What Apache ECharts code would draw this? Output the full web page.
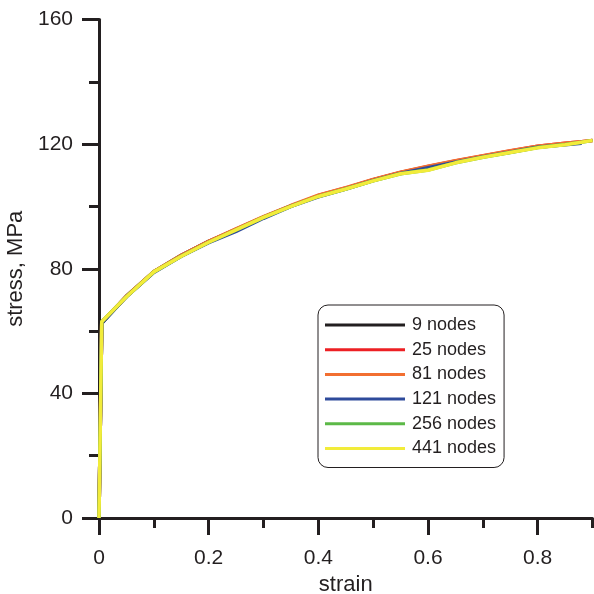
<!DOCTYPE html>
<html>
<head>
<meta charset="utf-8">
<script src="https://cdn.jsdelivr.net/npm/echarts@6/dist/echarts.min.js"></script>
<style>
  html, body { margin: 0; padding: 0; background: #fff; }
  #chart { width: 594px; height: 594px; }
</style>
</head>
<body>
<div id="chart"></div>
<script>
// strain values (x) shared by all curves
var strain = [0, 0.005, 0.05, 0.1, 0.15, 0.2, 0.25, 0.3, 0.35, 0.4, 0.45, 0.5, 0.55, 0.6, 0.65, 0.7, 0.75, 0.8, 0.85, 0.88, 0.9];

// stress in MPa for each mesh
var nodes9   = [0, 62.5, 71.2, 79.0, 84.3, 88.8, 92.6, 96.6, 100.2, 103.3, 105.8, 108.5, 110.8, 112.6, 114.3, 116.0, 117.6, 119.1, 120.0, 120.4, null];
var nodes25  = [0, 62.8, 71.1, 79.0, 84.2, 88.7, 92.7, 96.6, 100.1, 103.5, 105.9, 108.6, 110.9, 112.8, 114.6, 116.2, 117.8, 119.3, 120.3, 120.8, 121.2];
var nodes81  = [0, 62.9, 71.2, 79.1, 84.3, 88.8, 92.8, 96.7, 100.3, 103.6, 106.0, 108.7, 111.0, 112.9, 114.7, 116.3, 117.9, 119.3, 120.3, 120.8, 121.2];
var nodes121 = [0, 62.6, 71.0, 78.8, 84.0, 88.4, 92.0, 96.2, 100.0, 103.1, 105.6, 108.3, 110.6, 112.4, 114.2, 115.9, 117.4, 119.0, 119.8, 120.3, null];
var nodes256 = [0, 63.0, 71.0, 79.0, 84.0, 88.5, 92.5, 96.5, 100.0, 103.2, 105.6, 108.2, 110.5, 111.7, 114.0, 115.8, 117.3, 118.9, 119.9, 120.6, 121.2];
var nodes441 = [0, 63.0, 71.0, 79.0, 84.0, 88.5, 92.5, 96.5, 100.0, 103.2, 105.6, 108.2, 110.5, 111.6, 114.0, 115.8, 117.3, 118.8, 119.8, 120.6, 121.2];

var seriesNames = ['9 nodes', '25 nodes', '81 nodes', '121 nodes', '256 nodes', '441 nodes'];
var seriesValues = [nodes9, nodes25, nodes81, nodes121, nodes256, nodes441];
var seriesColors = ['#231f20', '#ed2024', '#f26f31', '#2e4b9b', '#5cb947', '#f2ec3a'];

var majorX = [0, 0.2, 0.4, 0.6, 0.8];
var minorX = [0.1, 0.3, 0.5, 0.7, 0.9];

var ink = '#231f20';

function pairs(vals) {
  var out = [];
  for (var i = 0; i < strain.length; i++) {
    if (vals[i] != null) out.push([strain[i], vals[i]]);
  }
  return out;
}

var series = seriesNames.map(function (name, i) {
  return {
    name: name,
    type: 'line',
    symbol: 'none',
    xAxisIndex: 0,
    color: seriesColors[i],
    lineStyle: { width: 3.5, color: seriesColors[i] },
    data: pairs(seriesValues[i])
  };
});

var myChart = echarts.init(document.getElementById('chart'));
myChart.setOption({
  animation: false,
  backgroundColor: '#fff',
  textStyle: { fontFamily: 'Liberation Sans, Arial, sans-serif', color: ink },
  grid: { left: 99, right: 1.5, top: 19.5, bottom: 76, outerBoundsMode: 'none', containLabel: false },
  legend: {
    orient: 'vertical',
    left: 318,
    top: 305,
    padding: [11, 8, 10, 7],
    borderColor: ink,
    borderWidth: 1,
    borderRadius: 10,
    icon: 'rect',
    itemWidth: 80,
    itemHeight: 3,
    itemGap: 6.7,
    textStyle: { fontSize: 18, color: ink, padding: [0, 0, 0, 2] },
    data: seriesNames
  },
  xAxis: [
    {
      type: 'value',
      min: 0,
      max: 0.9,
      interval: 0.1,
      name: 'strain',
      nameLocation: 'middle',
      nameGap: 51,
      nameTextStyle: { fontSize: 22, color: ink },
      axisLine: { show: true, lineStyle: { color: ink, width: 3 } },
      axisTick: { show: true, customValues: majorX, length: 17, lineStyle: { color: ink, width: 3 } },
      axisLabel: { customValues: majorX, fontSize: 21, color: ink, margin: 30 },
      splitLine: { show: false }
    },
    {
      type: 'value',
      min: 0,
      max: 0.9,
      interval: 0.1,
      position: 'bottom',
      axisLine: { show: false },
      axisTick: { show: true, customValues: minorX, length: 10, lineStyle: { color: ink, width: 3 } },
      axisLabel: { show: false },
      splitLine: { show: false }
    }
  ],
  yAxis: {
    type: 'value',
    min: 0,
    max: 160,
    interval: 40,
    name: 'stress, MPa',
    nameLocation: 'middle',
    nameGap: 65,
    nameTextStyle: { fontSize: 22, color: ink },
    axisLine: { show: true, lineStyle: { color: ink, width: 3 } },
    axisTick: { show: true, length: 17, lineStyle: { color: ink, width: 3 } },
    minorTick: { show: true, splitNumber: 2, length: 10, lineStyle: { color: ink, width: 3 } },
    axisLabel: { fontSize: 21, color: ink, margin: 26 },
    splitLine: { show: false },
    minorSplitLine: { show: false }
  },
  series: series
});
</script>
</body>
</html>
